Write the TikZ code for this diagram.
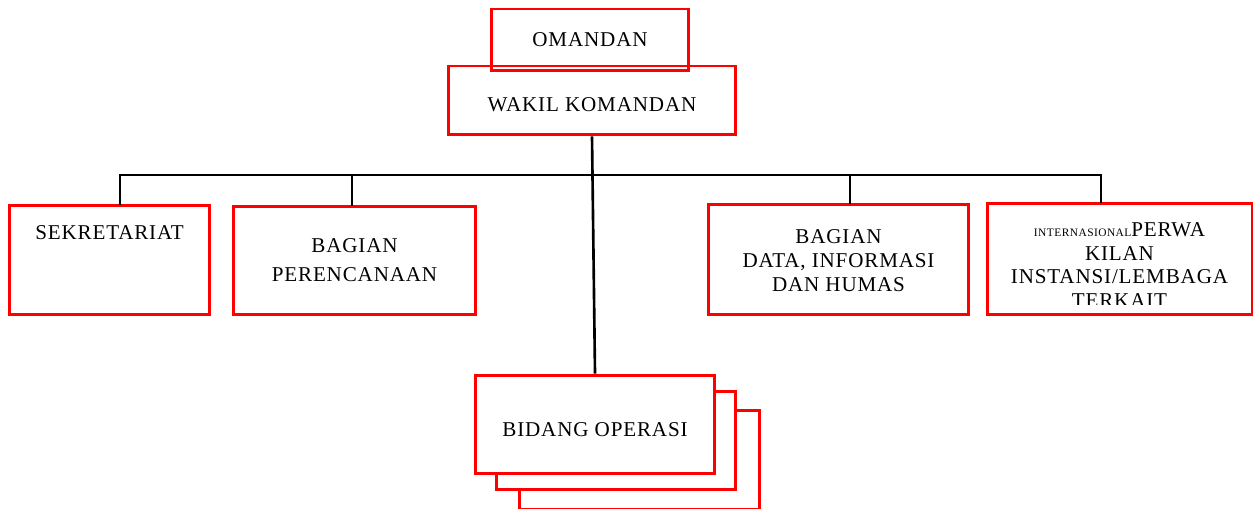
\documentclass[tikz,border=0pt]{standalone}
\usepackage{fontspec}
\setmainfont[LetterSpace=4]{Liberation Serif}
\usetikzlibrary{positioning}

\begin{document}
\begin{tikzpicture}[x=0.02cm,y=-0.02cm,
  unitbox/.style={draw=red,line width=1.7pt,fill=white,inner sep=0pt,
    align=center,font=\fontsize{12}{13.6}\selectfont},
  linkline/.style={line width=1.5pt,black},
  lbl/.style={align=center,inner sep=0pt,font=\fontsize{12}{13.6}\selectfont}]
\useasboundingbox (0,0) rectangle (1253,509);
\node[unitbox,minimum width=5.76cm,minimum height=1.38cm] (wakil) at (592,100.5) {};
\node[lbl] (wakiltxt) at (592,105) {WAKIL KOMANDAN};
\node[unitbox,fill=none,minimum width=3.96cm,minimum height=1.24cm] (koman) at (590,40) {};
\node[lbl] (komantxt) at (590,40) {OMANDAN};
\node[unitbox,minimum width=4.02cm,minimum height=2.2cm] (sek) at (109.5,260) {};
\node[lbl] (sektxt) at (109.5,233) {SEKRETARIAT};
\node[unitbox,minimum width=4.86cm,minimum height=2.18cm] (per) at (354.5,260.5) {};
\node[lbl] (pertxt) at (354.5,260.5) {BAGIAN\\[3pt]PERENCANAAN};
\node[unitbox,minimum width=5.22cm,minimum height=2.22cm] (dat) at (838.5,259.5) {};
\node[lbl] (dattxt) at (838.5,261) {BAGIAN\\DATA, INFORMASI\\DAN HUMAS};
\node[unitbox,minimum width=5.3cm,minimum height=2.24cm] (pwk) at (1119.5,259) {};
\begin{scope}
\clip (990,206) rectangle (1250,305);
\node[lbl] (pwktxt) at (1119.5,265) {{\fontsize{6.5}{7}\selectfont INTERNASIONAL}PERWA\\KILAN\\INSTANSI/LEMBAGA\\TERKAIT};
\end{scope}
\node[unitbox,minimum width=4.82cm,minimum height=1.98cm] (bid3) at (639.5,460) {};
\node[unitbox,minimum width=4.8cm,minimum height=1.98cm] (bid2) at (616,440.5) {};
\node[unitbox,minimum width=4.8cm,minimum height=1.98cm] (bid) at (595,424.5) {};
\node[lbl] (bidtxt) at (595,430) {BIDANG OPERASI};
\coordinate (bus) at (593,175);
\coordinate (sekdrop) at (120,205);
\coordinate (perdrop) at (352,206);
\coordinate (datdrop) at (850,204);
\coordinate (pwkdrop) at (1101,203);
\draw[linkline] (sekdrop) -- (sekdrop |- bus) -- (pwkdrop |- bus) -- (pwkdrop);
\draw[linkline] (perdrop) -- (perdrop |- bus);
\draw[linkline] (datdrop) -- (datdrop |- bus);
\draw[linkline] (wakil.south) -- (bid.north);
\end{tikzpicture}
\end{document}
